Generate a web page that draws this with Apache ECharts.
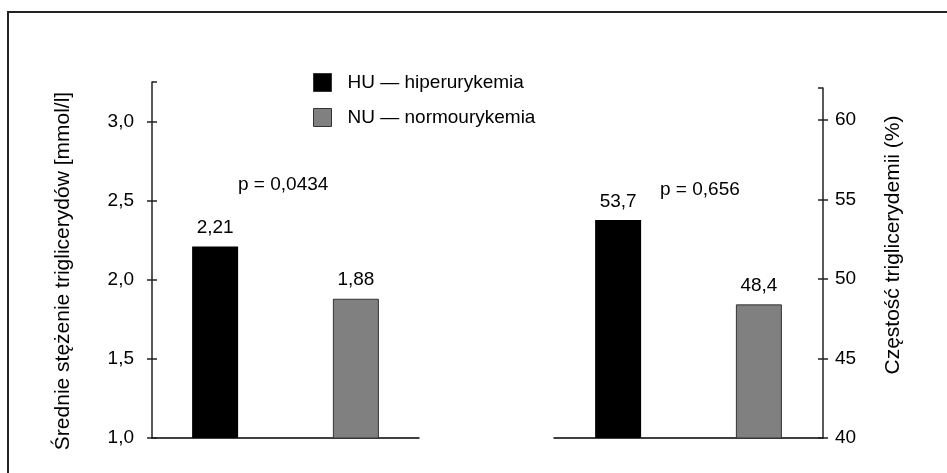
<!DOCTYPE html>
<html>
<head>
<meta charset="utf-8">
<script src="https://cdn.jsdelivr.net/npm/echarts@6/dist/echarts.min.js"></script>
<style>
html,body{margin:0;padding:0;background:#fff;}
#chart{width:947px;height:473px;}
</style>
</head>
<body>
<div id="chart"></div>
<script>
// ---- data ----
const groups = ['HU — hiperurykemia', 'NU — normourykemia'];
const meanTG = [2.21, 1.88];          // mmol/l
const freqTG = [53.7, 48.4];          // %
const pValues = ['p = 0,0434', 'p = 0,656'];
const leftAxisTitle = 'Średnie stężenie triglicerydów [mmol/l]';
const rightAxisTitle = 'Częstość triglicerydemii (%)';
const leftRange = [1.0, 3.25, 0.5];
const rightRange = [40, 62, 5];

const FONT = '"Liberation Sans", Arial, sans-serif';
const FS = 19;
const colors = ['#000000', '#808080'];
const comma = (v, d) => v.toFixed(d).replace('.', ',');

const chart = echarts.init(document.getElementById('chart'));

const series = [];
groups.forEach((g, i) => {
  series.push({
    name: g, type: 'bar', xAxisIndex: 0, yAxisIndex: 0,
    data: [meanTG[i]], barWidth: 46, barGap: '206%',
    itemStyle: { color: colors[i], borderColor: '#333', borderWidth: i === 1 ? 1 : 0 },
    label: { show: true, position: 'top', distance: 9, color: '#000', fontFamily: FONT, fontSize: FS,
      formatter: p => comma(p.value, 2) }
  });
  series.push({
    name: g, type: 'bar', xAxisIndex: 1, yAxisIndex: 1,
    data: [freqTG[i]], barWidth: 46, barGap: '206%',
    itemStyle: { color: colors[i], borderColor: '#333', borderWidth: i === 1 ? 1 : 0 },
    label: { show: true, position: 'top', distance: 9, color: '#000', fontFamily: FONT, fontSize: FS,
      formatter: p => comma(p.value, 1) }
  });
});

const yBase = (gridIndex, pos, range, dec, inside, margin) => ({
  type: 'value', gridIndex, position: pos,
  min: range[0], max: range[1], interval: range[2],
  splitLine: { show: false },
  axisLine: { show: !inside, lineStyle: { color: '#222', width: 1.5 } },
  axisTick: { show: true, inside, length: 5, lineStyle: { color: '#222', width: 1.5 } },
  axisLabel: { show: !inside, margin, color: '#000', fontFamily: FONT, fontSize: FS,
    formatter: v => comma(v, dec),
    showMaxLabel: false }
});

chart.setOption({
  animation: false,
  backgroundColor: '#fff',
  textStyle: { fontFamily: FONT },
  legend: {
    orient: 'vertical', left: 308, top: 68, itemWidth: 18, itemHeight: 18, itemGap: 16,
    icon: 'rect', data: groups,
    textStyle: { color: '#000', fontFamily: FONT, fontSize: FS, padding: [0, 0, 0, 11] },
    itemStyle: { borderColor: '#333', borderWidth: 1 }
  },
  grid: [
    { left: 152, top: 82, width: 267, bottom: 35 },
    { left: 554, top: 88, width: 269, bottom: 35 }
  ],
  xAxis: [
    { type: 'category', gridIndex: 0, data: [''], axisTick: { show: false }, axisLabel: { show: false },
      axisLine: { lineStyle: { color: '#000', width: 1.5 } } },
    { type: 'category', gridIndex: 1, data: [''], axisTick: { show: false }, axisLabel: { show: false },
      axisLine: { lineStyle: { color: '#000', width: 1.5 } } }
  ],
  yAxis: [
    yBase(0, 'left', leftRange, 1, false, 18),
    yBase(1, 'right', rightRange, 0, false, 12),
    yBase(0, 'left', leftRange, 1, true, 0),
    yBase(1, 'right', rightRange, 0, true, 0)
  ],
  series,
  graphic: [
    { type: 'rect', shape: { x: 8, y: 12, width: 960, height: 480 }, silent: true, z: -1,
      style: { fill: 'none', stroke: '#222', lineWidth: 2 } },
    { type: 'text', x: 63, y: 271, rotation: Math.PI / 2,
      style: { text: leftAxisTitle, fill: '#000', font: '21px ' + FONT, align: 'center', verticalAlign: 'middle' } },
    { type: 'text', x: 893, y: 245, rotation: Math.PI / 2,
      style: { text: rightAxisTitle, fill: '#000', font: '21px ' + FONT, align: 'center', verticalAlign: 'middle' } },
    { type: 'text', x: 238, y: 185,
      style: { text: pValues[0], fill: '#000', font: FS + 'px ' + FONT, align: 'left', verticalAlign: 'middle' } },
    { type: 'text', x: 660, y: 190,
      style: { text: pValues[1], fill: '#000', font: FS + 'px ' + FONT, align: 'left', verticalAlign: 'middle' } }
  ]
});
</script>
</body>
</html>
